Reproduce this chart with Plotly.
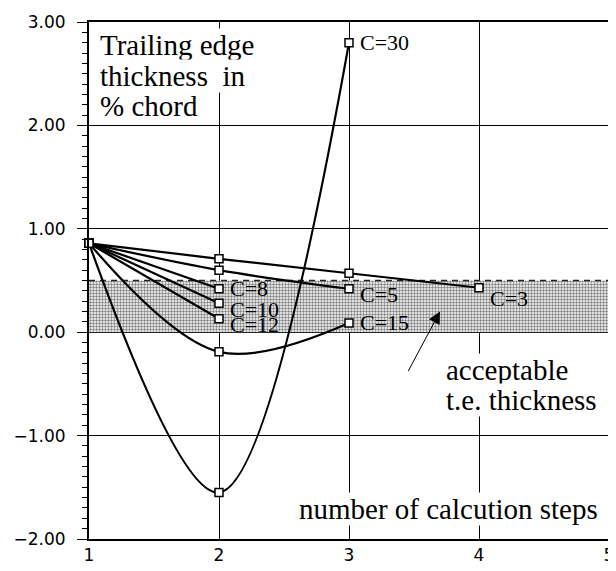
import plotly.graph_objects as go

# ---- data ----
steps = [1, 2, 3, 4]
c3 = [0.86, 0.71, 0.57, 0.43]
c5 = [0.86, 0.60, 0.42]
c8 = [0.86, 0.42]
c10 = [0.86, 0.28]
c12 = [0.86, 0.13]
c15 = [0.86, -0.19, 0.09]
c30 = [0.86, -1.55, 2.80]
series_names = ["C=3", "C=5", "C=8", "C=10", "C=12", "C=15", "C=30"]
series_values = [c3, c5, c8, c10, c12, c15, c30]
label_yshift = [-11, -6, 0, -6, -6, 0, 0]

band_x = [1, 5]
band_lo = 0.0
band_hi = 0.5

y_ticks = [-2, -1, 0, 1, 2, 3]
x_ticks = [1, 2, 3, 4, 5]

SERIF = "Liberation Serif, Times New Roman, serif"
SANS = "DejaVu Sans, Arial, sans-serif"

fig = go.Figure()

# acceptable band (dotted fill)
fig.add_trace(go.Scatter(
    x=[band_x[0], band_x[1], band_x[1], band_x[0], band_x[0]],
    y=[band_lo, band_lo, band_hi, band_hi, band_lo],
    mode="lines", line=dict(width=0), fill="toself",
    fillcolor="white",
    fillpattern=dict(shape=".", size=3, solidity=0.5, fgcolor="black", bgcolor="white"),
    hoverinfo="skip", showlegend=False))
# dashed top edge of band
fig.add_trace(go.Scatter(
    x=band_x, y=[band_hi, band_hi], mode="lines",
    line=dict(color="#222", width=1.5, dash="6px,5px"),
    hoverinfo="skip", showlegend=False))

for name, vals in zip(series_names, series_values):
    fig.add_trace(go.Scatter(
        x=steps[:len(vals)], y=vals, mode="lines+markers", name=name,
        line=dict(color="black", width=2.2, shape="spline", smoothing=1.0),
        marker=dict(symbol="square", size=8, color="white",
                    line=dict(color="black", width=1.5)),
        cliponaxis=False, showlegend=False))

annotations = []
for name, vals, ys in zip(series_names, series_values, label_yshift):
    annotations.append(dict(
        x=steps[len(vals) - 1], y=vals[-1], xref="x", yref="y",
        text=name, showarrow=False, xanchor="left", yanchor="middle",
        xshift=10, yshift=ys, borderpad=0,
        font=dict(family=SERIF, size=22, color="black")))

title_lines = [("Trailing edge", 2.78), ("thickness  in", 2.48), ("% chord", 2.19)]
for txt, yy in title_lines:
    annotations.append(dict(
        x=1.08, y=yy, xref="x", yref="y", text=txt, showarrow=False,
        xanchor="left", yanchor="middle", bgcolor="white", borderpad=0,
        font=dict(family=SERIF, size=29, color="black")))

annotations.append(dict(x=3.74, y=-0.37, xref="x", yref="y", text="acceptable",
                        showarrow=False, xanchor="left", yanchor="middle",
                        bgcolor="white", borderpad=0,
                        font=dict(family=SERIF, size=29, color="black")))
annotations.append(dict(x=3.74, y=-0.655, xref="x", yref="y", text="t.e. thickness",
                        showarrow=False, xanchor="left", yanchor="middle",
                        bgcolor="white", borderpad=0,
                        font=dict(family=SERIF, size=29, color="black")))
annotations.append(dict(x=4.92, y=-1.71, xref="x", yref="y",
                        text="number of calcution steps",
                        showarrow=False, xanchor="right", yanchor="middle",
                        bgcolor="white", borderpad=0,
                        font=dict(family=SERIF, size=29, color="black")))
# arrow pointing into the band
annotations.append(dict(x=3.70, y=0.20, xref="x", yref="y",
                        ax=3.45, ay=-0.39, axref="x", ayref="y",
                        text="", showarrow=True, arrowhead=2, arrowsize=2.4,
                        arrowwidth=1, arrowcolor="black"))

# the page body adds an 8px offset, so margins are reduced on left/top accordingly
fig.update_layout(
    width=616, height=571,
    margin=dict(l=81, r=15, t=14, b=40, autoexpand=False),
    paper_bgcolor="white", plot_bgcolor="white",
    annotations=annotations,
    showlegend=False,
)
fig.update_xaxes(
    range=[1, 5], tickvals=x_ticks, ticktext=[str(v) for v in x_ticks],
    showgrid=True, gridcolor="black", gridwidth=1,
    showline=True, linecolor="black", linewidth=2, mirror=True,
    ticks="inside", ticklen=6, tickcolor="black", tickwidth=1,
    zeroline=False, ticklabeloverflow="allow", automargin=False,
    tickfont=dict(family=SANS, size=17, color="black"),
)
fig.update_yaxes(
    range=[-2, 3], tickvals=y_ticks, tickformat=".2f",
    showgrid=True, gridcolor="black", gridwidth=1,
    showline=True, linecolor="black", linewidth=2, mirror=True,
    ticks="outside", ticklen=10, tickcolor="black", tickwidth=1,
    minor=dict(dtick=0.1, ticks="outside", ticklen=5, tickcolor="black", showgrid=False),
    zeroline=True, zerolinecolor="black", zerolinewidth=2,
    ticklabelstandoff=8, automargin=False,
    tickfont=dict(family=SANS, size=17, color="black"),
)

fig.write_html("out.html")
